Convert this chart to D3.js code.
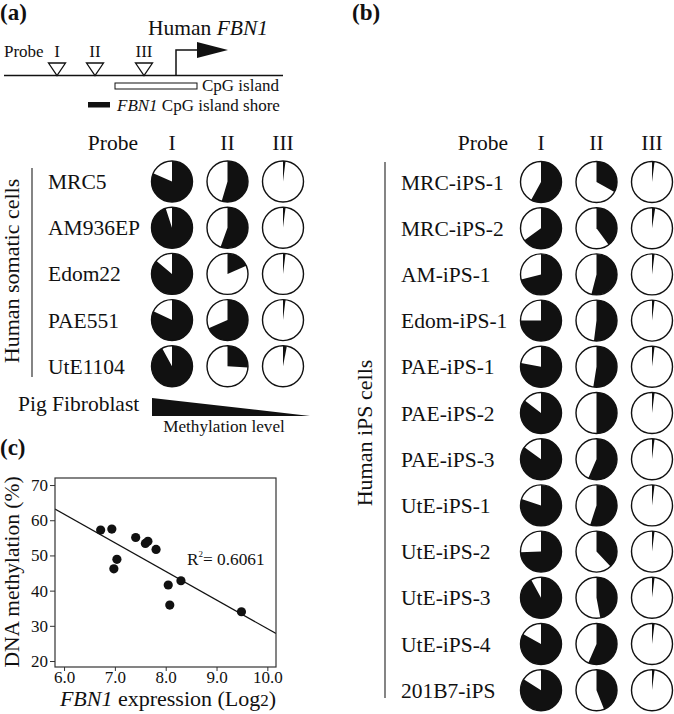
<!doctype html>
<html lang="en">
  <head>
    <meta charset="utf-8">
    <title>FBN1 methylation</title>
    <script src="https://d3js.org/d3.v7.min.js"></script>
    <style>
      body { margin: 0; background: #fff; }
      svg { display: block; }
      text { font-family: "Liberation Serif", "Times New Roman", serif; fill: #111; }
    </style>
  </head>
  <body>
    <div id="fig"></div>
    <script>
      // probe columns
      const probes = ["I", "II", "III"];

      // (a) somatic cells, fraction methylated per probe
      const somaticCells = ["MRC5", "AM936EP", "Edom22", "PAE551", "UtE1104"];
      const somaticI   = [0.815, 0.95, 0.86, 0.82, 0.92];
      const somaticII  = [0.546, 0.555, 0.185, 0.685, 0.26];
      const somaticIII = [0.02, 0.02, 0.02, 0.02, 0.03];

      // (b) iPS cells
      const ipsCells = ["MRC-iPS-1", "MRC-iPS-2", "AM-iPS-1", "Edom-iPS-1", "PAE-iPS-1", "PAE-iPS-2",
                        "PAE-iPS-3", "UtE-iPS-1", "UtE-iPS-2", "UtE-iPS-3", "UtE-iPS-4", "201B7-iPS"];
      const ipsI   = [0.58, 0.65, 0.71, 0.75, 0.78, 0.855, 0.85, 0.80, 0.745, 0.92, 0.83, 0.84];
      const ipsII  = [0.33, 0.40, 0.54, 0.52, 0.525, 0.50, 0.565, 0.55, 0.38, 0.47, 0.565, 0.44];
      const ipsIII = [0.02, 0.025, 0.02, 0.02, 0.02, 0.02, 0.02, 0.02, 0.02, 0.02, 0.02, 0.02];

      // (c) scatter
      const expression  = [6.72, 6.94, 7.41, 7.60, 7.65, 7.81, 7.04, 6.98, 8.05, 8.30, 8.08, 9.49];
      const methylation = [57.2, 57.5, 55.1, 53.4, 54.0, 51.7, 48.9, 46.2, 41.6, 42.8, 35.9, 34.0];
      const fitLine = [110.5, -8.13];   // intercept, slope
      const rSquared = "0.6061";
      const xTicks = [6, 7, 8, 9, 10];
      const yTicks = [20, 30, 40, 50, 60, 70];

      const W = 674, H = 714;
      const svg = d3.select("#fig").append("svg")
        .attr("width", W).attr("height", H);

      const txt = (x, y, s, size, anchor) => svg.append("text")
        .attr("x", x).attr("y", y)
        .attr("font-size", size)
        .attr("text-anchor", anchor || "start")
        .text(s);

      // panel letters
      txt(0, 20, "(a)", 23).attr("font-weight", "bold");
      txt(352, 20, "(b)", 23).attr("font-weight", "bold");
      txt(0, 455, "(c)", 23).attr("font-weight", "bold");

      // ---- gene schematic ----
      const g0 = svg.append("g");
      const lineY = 75.5;
      g0.append("line").attr("x1", 4).attr("x2", 283).attr("y1", lineY).attr("y2", lineY)
        .attr("stroke", "#111").attr("stroke-width", 1.5);
      const probeX = [57, 95, 144];
      txt(4, 57, "Probe", 17);
      probes.forEach((p, i) => {
        txt(probeX[i], 57, p, 17, "middle");
        g0.append("path")
          .attr("d", `M${probeX[i] - 8.5},63 L${probeX[i] + 8.5},63 L${probeX[i]},${lineY} Z`)
          .attr("fill", "#fff").attr("stroke", "#111").attr("stroke-width", 1.3);
      });
      g0.append("path").attr("d", `M176,${lineY} V50 H198`).attr("fill", "none")
        .attr("stroke", "#111").attr("stroke-width", 1.5);
      g0.append("path").attr("d", "M197,42 L228,50 L197,58 Z").attr("fill", "#111");
      const ht = txt(148, 35, "Human ", 21.5);
      ht.append("tspan").attr("font-style", "italic").text("FBN1");
      g0.append("rect").attr("x", 115).attr("y", 83).attr("width", 82).attr("height", 6)
        .attr("fill", "#fff").attr("stroke", "#111").attr("stroke-width", 1);
      txt(202, 91, "CpG island", 17);
      g0.append("rect").attr("x", 88).attr("y", 102).attr("width", 22).attr("height", 5.5)
        .attr("fill", "#111");
      const st = txt(117, 111, "", 17);
      st.append("tspan").attr("font-style", "italic").text("FBN1");
      st.append("tspan").text(" CpG island shore");

      // ---- pie grids ----
      const R = 20.5;
      const arc = d3.arc().innerRadius(0).outerRadius(R);
      const step = 46.2;

      function pieGrid(x0, y0, cells, cols, probeRight, lineX, lineY1, lineY2, groupLabel, labelX, labelY) {
        const x = d3.scalePoint().domain(probes).range([x0, x0 + 111]);
        const y = d3.scalePoint().domain(cells).range([y0, y0 + step * (cells.length - 1)]);
        txt(probeRight, 150, "Probe", 21.5, "end");
        probes.forEach(p => txt(x(p), 150, p, 21.5, "middle"));
        svg.append("line").attr("x1", lineX).attr("x2", lineX).attr("y1", lineY1).attr("y2", lineY2)
          .attr("stroke", "#333").attr("stroke-width", 1.2);
        txt(labelX, labelY, groupLabel, 22, "middle")
          .attr("transform", `rotate(-90, ${labelX}, ${labelY})`);
        cells.forEach((c, i) => {
          txt(lineX + 16, y(c) + 7.5, c, 21.5);
          probes.forEach((p, j) => {
            const g = svg.append("g").attr("transform", `translate(${x(p)},${y(c)})`);
            g.append("circle").attr("r", R).attr("fill", "#fff");
            g.append("path").attr("d", arc({startAngle: 0, endAngle: cols[j][i] * 2 * Math.PI}))
              .attr("fill", "#111");
            g.append("circle").attr("r", R).attr("fill", "none")
              .attr("stroke", "#111").attr("stroke-width", 1.4);
          });
        });
      }

      pieGrid(172, 181.5, somaticCells, [somaticI, somaticII, somaticIII], 138, 32, 168, 377,
              "Human somatic cells", 19, 271);
      pieGrid(541, 182, ipsCells, [ipsI, ipsII, ipsIII], 508, 385, 162, 698,
              "Human iPS cells", 372, 433);

      // pig fibroblast gradient wedge
      txt(18, 411, "Pig Fibroblast", 21.5);
      svg.append("path").attr("d", "M152,398 L152,416 L310,416 Z").attr("fill", "#111");
      txt(224, 432, "Methylation level", 17.2, "middle");

      // ---- (c) scatter ----
      const frame = {left: 55, right: 276, top: 478, bottom: 667};
      const sx = d3.scaleLinear().domain([5.822, 10.17]).range([frame.left, frame.right]);
      const sy = d3.scaleLinear().domain([18.3, 72.0]).range([frame.bottom, frame.top]);

      svg.append("g").attr("transform", `translate(0,${frame.bottom})`)
        .call(d3.axisBottom(sx).tickValues(xTicks).tickFormat(d3.format(".1f")).tickSize(4))
        .call(g => g.select(".domain").remove())
        .call(g => g.selectAll("text").attr("y", 16).attr("dy", null)
          .attr("font-size", 17).attr("font-family", null).attr("fill", "#111"))
        .call(g => g.selectAll("line").attr("stroke", "#333"));
      svg.append("g").attr("transform", `translate(${frame.left},0)`)
        .call(d3.axisLeft(sy).tickValues(yTicks).tickSize(5).tickPadding(2))
        .call(g => g.select(".domain").remove())
        .call(g => g.selectAll("text").attr("font-size", 17).attr("font-family", null).attr("fill", "#111"))
        .call(g => g.selectAll("line").attr("stroke", "#333"));

      svg.append("clipPath").attr("id", "clip").append("rect")
        .attr("x", frame.left).attr("y", frame.top)
        .attr("width", frame.right - frame.left).attr("height", frame.bottom - frame.top);

      const fx = sx.domain();
      svg.append("line").attr("clip-path", "url(#clip)")
        .attr("x1", sx(fx[0])).attr("y1", sy(fitLine[0] + fitLine[1] * fx[0]))
        .attr("x2", sx(fx[1])).attr("y2", sy(fitLine[0] + fitLine[1] * fx[1]))
        .attr("stroke", "#111").attr("stroke-width", 1.2);

      svg.append("g").selectAll("circle")
        .data(expression.map((e, i) => [e, methylation[i]]))
        .join("circle")
          .attr("cx", d => sx(d[0]))
          .attr("cy", d => sy(d[1]))
          .attr("r", 4.6)
          .attr("fill", "#111");

      svg.append("rect").attr("x", frame.left).attr("y", frame.top)
        .attr("width", frame.right - frame.left).attr("height", frame.bottom - frame.top)
        .attr("fill", "none").attr("stroke", "#333").attr("stroke-width", 1.2);

      const rt = txt(187, 565, "R", 17.3);
      rt.append("tspan").attr("font-size", 9).attr("dy", -8).text("2");
      rt.append("tspan").attr("dy", 8).text("= " + rSquared);

      const xl = txt(168, 706, "", 22, "middle");
      xl.append("tspan").attr("font-style", "italic").text("FBN1");
      xl.append("tspan").text(" expression (Log");
      xl.append("tspan").attr("font-size", 17).text("2");
      xl.append("tspan").text(")");

      txt(19, 572, "DNA methylation (%)", 21.5, "middle")
        .attr("transform", "rotate(-90, 19, 572)");
    </script>
  </body>
</html>
